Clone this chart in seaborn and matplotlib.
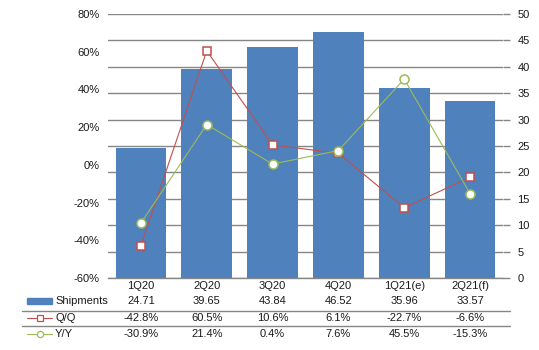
import matplotlib
matplotlib.use("Agg")
import matplotlib.pyplot as plt
import matplotlib.transforms as mtransforms
from matplotlib.lines import Line2D
from matplotlib.patches import Rectangle
import seaborn as sns
import pandas as pd
import numpy as np

categories = ["1Q20", "2Q20", "3Q20", "4Q20", "1Q21(e)", "2Q21(f)"]
shipments = [24.71, 39.65, 43.84, 46.52, 35.96, 33.57]
qoq = [-42.8, 60.5, 10.6, 6.1, -22.7, -6.6]
yoy = [-30.9, 21.4, 0.4, 7.6, 45.5, -15.3]
ship_labels = ["24.71", "39.65", "43.84", "46.52", "35.96", "33.57"]
qoq_labels = ["-42.8%", "60.5%", "10.6%", "6.1%", "-22.7%", "-6.6%"]
yoy_labels = ["-30.9%", "21.4%", "0.4%", "7.6%", "45.5%", "-15.3%"]

sns.set_theme(style="white")
plt.rcParams['font.family'] = ['Liberation Sans', 'DejaVu Sans']

BAR = "#4F81BD"
RED = "#C0504D"
GREEN = "#9BBB59"
GRID = "#868686"
TXT = "#1a1a1a"

W, H = 539, 350
fig = plt.figure(figsize=(W / 100, H / 100), dpi=100)
L, R, T, B = 108, 503, 14, 278
ax = fig.add_axes([L / W, 1 - B / H, (R - L) / W, (B - T) / H])

df = pd.DataFrame({"cat": categories, "ship": shipments, "qoq": qoq, "yoy": yoy})
df["pos"] = np.arange(len(df))

sns.barplot(data=df, x="cat", y="ship", color=BAR, saturation=1, width=0.77, ax=ax,
            zorder=2, linewidth=0)
ax.set_ylim(0, 50)
ax.set_xlim(-0.5, len(categories) - 0.5)
ax.set_yticks(np.arange(0, 51, 5))
ax.grid(axis="y", color=GRID, linewidth=1, zorder=0)
ax.set_axisbelow(True)
ax.set_xlabel("")
ax.set_ylabel("")
for s in ["top", "left", "right"]:
    ax.spines[s].set_visible(False)
ax.spines["bottom"].set_color(GRID)
ax.spines["bottom"].set_linewidth(1)

ax2 = ax.twinx()
ax2.set_ylim(-60, 80)
sns.lineplot(data=df, x="pos", y="qoq", ax=ax2, color=RED, linewidth=0.8, marker="s",
             markersize=6, markerfacecolor="white", markeredgecolor=RED, markeredgewidth=1.1)
sns.lineplot(data=df, x="pos", y="yoy", ax=ax2, color=GREEN, linewidth=0.8, marker="o",
             markersize=6.5, markerfacecolor="white", markeredgecolor=GREEN, markeredgewidth=1.1)
ax2.set_xlim(-0.5, len(categories) - 0.5)
ax2.set_yticks(np.arange(-60, 81, 20))
ax2.set_yticklabels([f"{v}%" for v in range(-60, 81, 20)])
ax2.set_xlabel("")
ax2.set_ylabel("")
for s in ax2.spines.values():
    s.set_visible(False)
ax2.grid(False)

# axis sides (after twinx, which resets them)
ax.yaxis.tick_right()
ax.tick_params(axis="y", which="both", right=True, left=False, labelright=True, labelleft=False,
               length=5, width=1, color=GRID, labelsize=8, labelcolor=TXT, pad=5.5)
ax.tick_params(axis="x", bottom=False, labelbottom=True, length=0, labelsize=8,
               labelcolor=TXT, pad=2)
ax2.yaxis.tick_left()
ax2.tick_params(axis="y", left=False, right=False, labelleft=True, labelright=False,
                length=0, labelsize=8, labelcolor=TXT, pad=6)
ax2.tick_params(axis="x", bottom=False, labelbottom=False)

# data table
trans = mtransforms.blended_transform_factory(ax.transData, fig.transFigure)
rows_y = [301, 318, 334]
for i in range(len(categories)):
    for lab, yy in zip([ship_labels[i], qoq_labels[i], yoy_labels[i]], rows_y):
        fig.text(i, 1 - yy / H, lab, transform=trans, ha="center", va="center",
                 fontsize=8, color=TXT)

for yy in [311, 326]:
    fig.add_artist(Line2D([22 / W, 510 / W], [1 - yy / H] * 2, color=GRID, linewidth=1,
                          transform=fig.transFigure))

fig.add_artist(Rectangle((27 / W, 1 - 304 / H), 25 / W, 6 / H, color=BAR,
                         transform=fig.transFigure))
fig.add_artist(Line2D([27 / W, 52 / W], [1 - 318 / H] * 2, color=RED, linewidth=0.8,
                      transform=fig.transFigure))
fig.add_artist(Line2D([40 / W], [1 - 318 / H], marker="s", markersize=4, markerfacecolor="white",
                      markeredgecolor=RED, markeredgewidth=0.9, transform=fig.transFigure))
fig.add_artist(Line2D([27 / W, 52 / W], [1 - 334 / H] * 2, color=GREEN, linewidth=0.8,
                      transform=fig.transFigure))
fig.add_artist(Line2D([40 / W], [1 - 334 / H], marker="o", markersize=4.5, markerfacecolor="white",
                      markeredgecolor=GREEN, markeredgewidth=0.9, transform=fig.transFigure))
for lab, yy in zip(["Shipments", "Q/Q", "Y/Y"], rows_y):
    fig.text(55 / W, 1 - yy / H, lab, ha="left", va="center", fontsize=8, color=TXT)

fig.savefig("out.png", dpi=100)
